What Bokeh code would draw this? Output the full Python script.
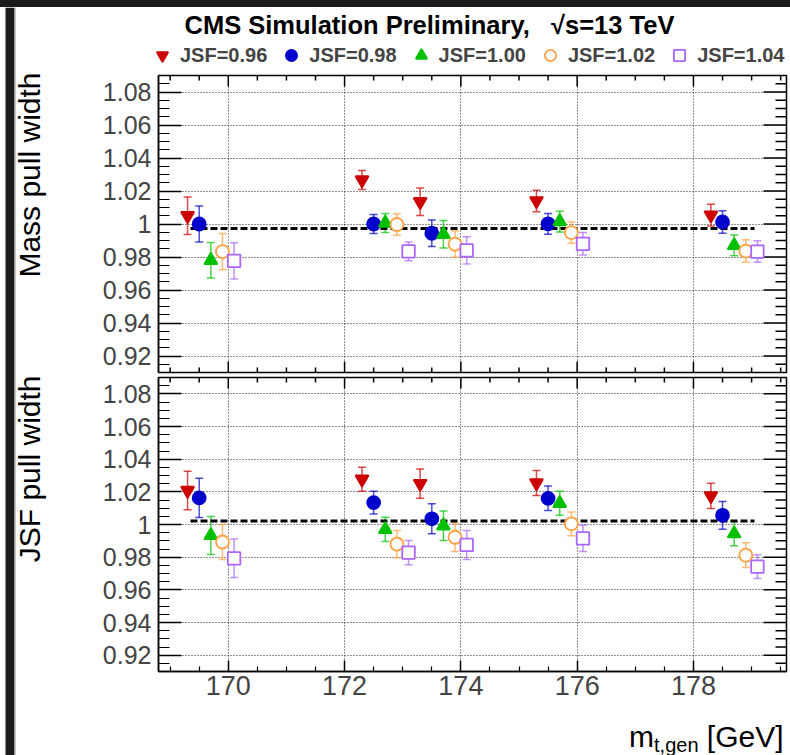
import math
import numpy as np
from bokeh.plotting import figure
from bokeh.models import (ColumnDataSource, Whisker, TeeHead, FixedTicker, LinearAxis,
                          Range1d, Legend, LegendItem, Div, Grid)
from bokeh.layouts import column, row
from bokeh.embed import file_html
from bokeh.resources import INLINE
from bokeh.core.properties import value

FONT = "Liberation Sans"

# ---------------- data ----------------
m_gen = [169.5, 172.5, 173.5, 175.5, 178.5]
jsf_names = ["JSF=0.96", "JSF=0.98", "JSF=1.00", "JSF=1.02", "JSF=1.04"]
x_shift = [-0.2, 0.0, 0.2, 0.4, 0.6]

# Mass pull width
mass_w_096 = [1.005, 1.0267, 1.0135, 1.014, 1.0054]
mass_e_096 = [0.0113, 0.0058, 0.0083, 0.0065, 0.0066]
mass_w_098 = [1.000, 1.000, 0.9944, 1.0001, 1.0012]
mass_e_098 = [0.0109, 0.0057, 0.0080, 0.0063, 0.0068]
mass_w_100 = [0.978, 1.0006, 0.9938, 1.0015, 0.987]
mass_e_100 = [0.0108, 0.0058, 0.0083, 0.0063, 0.0063]
mass_w_102 = [0.9833, 0.9997, 0.9878, 0.9948, 0.9836]
mass_e_102 = [0.0110, 0.0065, 0.0080, 0.0064, 0.0068]
mass_w_104 = [0.9777, 0.9834, 0.984, 0.988, 0.9833]
mass_e_104 = [0.0110, 0.0057, 0.0083, 0.0068, 0.0065]

# JSF pull width
jsf_w_096 = [1.0208, 1.0277, 1.025, 1.0254, 1.0175]
jsf_e_096 = [0.0118, 0.0074, 0.0090, 0.0077, 0.0077]
jsf_w_098 = [1.0163, 1.0134, 1.0035, 1.016, 1.0056]
jsf_e_098 = [0.0120, 0.0069, 0.0092, 0.0075, 0.0085]
jsf_w_100 = [0.9933, 0.997, 0.9992, 1.013, 0.9944]
jsf_e_100 = [0.0116, 0.0074, 0.0090, 0.0073, 0.0074]
jsf_w_102 = [0.9893, 0.988, 0.9922, 1.0004, 0.9812]
jsf_e_102 = [0.0107, 0.0084, 0.0087, 0.0073, 0.0076]
jsf_w_104 = [0.9793, 0.9828, 0.9875, 0.9915, 0.9742]
jsf_e_104 = [0.0118, 0.0074, 0.0089, 0.0080, 0.0073]

mass_mean = 0.9972
jsf_mean = 1.0021
mean_line_x = [169.35, 179.05]

x_ticks = [170, 172, 174, 176, 178]
y_ticks = [0.92, 0.94, 0.96, 0.98, 1.0, 1.02, 1.04, 1.06, 1.08]
y_tick_labels = ["0.92", "0.94", "0.96", "0.98", "1", "1.02", "1.04", "1.06", "1.08"]

mass_vals = [mass_w_096, mass_w_098, mass_w_100, mass_w_102, mass_w_104]
mass_errs = [mass_e_096, mass_e_098, mass_e_100, mass_e_102, mass_e_104]
jsf_vals = [jsf_w_096, jsf_w_098, jsf_w_100, jsf_w_102, jsf_w_104]
jsf_errs = [jsf_e_096, jsf_e_098, jsf_e_100, jsf_e_102, jsf_e_104]

X_MIN, X_MAX = 168.8, 179.6
Y_MIN, Y_MAX = 0.91, 1.09

# ---------------- styles ----------------
colors = ["#cc0000", "#0000cc", "#00c000", "#ffa040", "#aa66ff"]
markers = ["inverted_triangle", "circle", "triangle", "circle", "square"]
fills = ["#cc0000", "#0000cc", "#00c000", "white", "white"]
msizes = [13, 13, 13, 13, 12.5]

x_minor = [round(v, 2) for v in np.arange(168.5, 180.0, 0.5)]
x_minor = [v for v in x_minor if v not in x_ticks and X_MIN < v < X_MAX]
y_minor = [round(v, 3) for v in np.arange(0.905, 1.0951, 0.005)]
y_minor = [v for v in y_minor if all(abs(v - t) > 1e-6 for t in y_ticks) and Y_MIN < v < Y_MAX]

W = 730          # width of the panel figures
FRAME_L = 98
FRAME_R = 4
DARK = "#1c1c1c"


def no_frame_align(p):
    if "frame_align" in p.properties():
        p.frame_align = False


def mirror_ticks(p, top, bottom, right):
    """ROOT-style inward ticks on the sides without labels (clipped dash markers)."""
    tick = dict(marker="dash", line_color="black", line_width=1.5)
    if right:
        p.scatter([X_MAX] * len(y_ticks), y_ticks, size=46, **tick)
        p.scatter([X_MAX] * len(y_minor), y_minor, size=22, **tick)
    for yy in ([Y_MAX] if top else []) + ([Y_MIN] if bottom else []):
        p.scatter(x_ticks, [yy] * len(x_ticks), size=22, angle=math.pi / 2, **tick)
        p.scatter(x_minor, [yy] * len(x_minor), size=10, angle=math.pi / 2, **tick)


def make_panel(height, top, bottom, vals, errs, mean, show_x_axis):
    p = figure(width=W, height=height, x_range=Range1d(X_MIN, X_MAX),
               y_range=Range1d(Y_MIN, Y_MAX), output_backend="svg", toolbar_location=None,
               x_axis_type=None, y_axis_type=None,
               min_border_left=FRAME_L, min_border_right=FRAME_R,
               min_border_top=top, min_border_bottom=bottom)
    p.outline_line_color = "black"
    p.outline_line_width = 1.5
    p.background_fill_color = "white"
    p.border_fill_color = "white"

    xt = FixedTicker(ticks=x_ticks, minor_ticks=x_minor)
    yt = FixedTicker(ticks=y_ticks, minor_ticks=y_minor)
    common = dict(major_tick_out=0, minor_tick_out=0, axis_line_width=1.5,
                  major_tick_line_width=1.5, minor_tick_line_width=1.2,
                  major_label_text_font=FONT)
    left = LinearAxis(ticker=yt, major_tick_in=23, minor_tick_in=11,
                      major_label_standoff=7, major_label_text_font_size="25px",
                      major_label_overrides={t: s for t, s in zip(y_ticks, y_tick_labels)},
                      **common)
    p.add_layout(left, "left")
    if show_x_axis:
        below = LinearAxis(ticker=xt, major_tick_in=11, minor_tick_in=5,
                           major_label_standoff=4, major_label_text_font_size="27px", **common)
        p.add_layout(below, "below")
    gstyle = dict(grid_line_color="#222222", grid_line_dash="1 2", grid_line_width=1)
    p.add_layout(Grid(dimension=0, ticker=xt, **gstyle))
    p.add_layout(Grid(dimension=1, ticker=yt, **gstyle))

    mirror_ticks(p, top=True, bottom=not show_x_axis, right=True)

    p.line(mean_line_x, [mean, mean], line_color="black", line_width=3, line_dash="7 3")

    for i in range(5):
        xs = [m + x_shift[i] for m in m_gen]
        ys = vals[i]
        es = errs[i]
        src = ColumnDataSource(dict(x=xs, y=ys,
                                    upper=[a + b for a, b in zip(ys, es)],
                                    lower=[a - b for a, b in zip(ys, es)]))
        w = Whisker(source=src, base="x", upper="upper", lower="lower", dimension="height",
                    line_color=colors[i], line_alpha=0.7, line_width=1.5, level="underlay",
                    upper_head=TeeHead(size=8, line_color=colors[i], line_alpha=0.7, line_width=1.5),
                    lower_head=TeeHead(size=8, line_color=colors[i], line_alpha=0.7, line_width=1.5))
        p.add_layout(w)
        p.scatter("x", "y", source=src, marker=markers[i], size=msizes[i],
                  fill_color=fills[i], line_color=colors[i], line_width=1.8)
    return p


def blank(width, height, xr, yr):
    """A plain drawing area whose data coordinates are the page's pixels."""
    b = figure(width=width, height=height, x_range=Range1d(*xr), y_range=Range1d(*yr),
               output_backend="svg", toolbar_location=None, x_axis_type=None, y_axis_type=None,
               min_border=0, min_border_left=0, min_border_right=0, min_border_top=0,
               min_border_bottom=0)
    b.outline_line_color = None
    b.background_fill_color = "white"
    b.border_fill_color = "white"
    no_frame_align(b)
    return b


fig1 = make_panel(304, 5, 2, mass_vals, mass_errs, mass_mean, False)
fig2 = make_panel(338, 3, 41, jsf_vals, jsf_errs, jsf_mean, True)

NB = "\u00a0"
# ---- header: title + legend (page coordinates x 60..790, y 7..70) ----
header = blank(W, 63, (60, 790), (70, 7))
header.text(x=[184], y=[24], text=["CMS Simulation Preliminary," + NB * 3 + "\u221as=13 TeV"],
            text_align="left", text_baseline="alphabetic", text_font=value(FONT),
            text_font_size="25.5px", text_font_style="bold", text_color="black")
leg_rends = []
for i in range(5):
    # legend-only renderers (hidden); the legend draws their marker style
    leg_rends.append(header.scatter(x=[m + x_shift[i] for m in m_gen], y=mass_vals[i],
                                    marker=markers[i], size=msizes[i], visible=False,
                                    fill_color=fills[i], line_color=colors[i], line_width=1.8))
legend = Legend(items=[LegendItem(label=jsf_names[i], renderers=[leg_rends[i]]) for i in range(5)],
                orientation="horizontal", location=(88, 1),
                glyph_width=28, glyph_height=28, label_standoff=4, spacing=10,
                padding=0, margin=0, border_line_alpha=0, background_fill_alpha=0,
                inactive_fill_alpha=0,
                label_text_font=FONT, label_text_font_size="20px",
                label_text_font_style="bold", label_height=28)
header.add_layout(legend)

# ---- left strip: window edge + y-axis titles (page coordinates x 0..60, y 7..755) ----
ylab = blank(60, 748, (0, 60), (755, 7))
ylab.quad(left=[5], right=[14], top=[7], bottom=[755], fill_color=DARK, line_color=None)
ylab.quad(left=[14], right=[15], top=[7], bottom=[755], fill_color="#9a9a9a", line_color=None)
ylab.text(x=[12, 12], y=[72, 375], text=["Mass pull width", "JSF pull width"],
          angle=math.pi / 2, text_align="right", text_baseline="top",
          text_font=value(FONT), text_font_size="30px", text_color="black")

# ---- x-axis title (page coordinates x 60..790, y 712..755) ----
footer = blank(W, 43, (60, 790), (755, 712))
footer.text(x=[783], y=[736], text=["[GeV]"], text_align="right", text_baseline="alphabetic",
            text_font=value(FONT), text_font_size="30px", text_color="black")
footer.text(x=[698], y=[744], text=["t,gen"], text_align="right", text_baseline="alphabetic",
            text_font=value(FONT), text_font_size="20px", text_color="black")
footer.text(x=[653.5], y=[736], text=["m"], text_align="right", text_baseline="alphabetic",
            text_font=value(FONT), text_font_size="30px", text_color="black")

top_bar = Div(text="", width=790, height=7, margin=0,
              styles={"background-color": DARK})

layout = column(top_bar,
                row(ylab, column(header, fig1, fig2, footer, spacing=0), spacing=0),
                spacing=0)

with open("out.html", "w") as f:
    f.write(file_html(layout, INLINE))
